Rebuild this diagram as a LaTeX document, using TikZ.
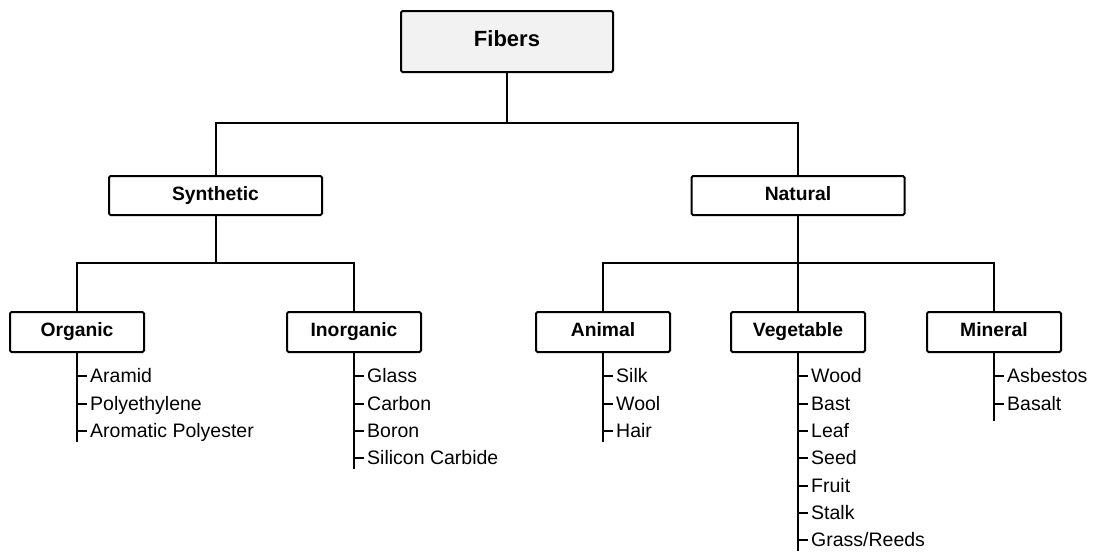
\documentclass[tikz,border=0pt]{standalone}
\usepackage{fontspec}
\setmainfont{Liberation Sans}
\usepackage{tikz}
\usetikzlibrary{positioning}

\definecolor{rootfill}{HTML}{F2F2F2}

\tikzset{
  box/.style   ={draw, line width=2pt, rounded corners=1.5pt, fill=white,
                 font=\fontsize{19.3}{22}\selectfont\bfseries, text height=13pt, text depth=4pt,
                 minimum width=134pt, minimum height=40pt, inner sep=0pt},
  root/.style  ={box, fill=rootfill, minimum width=212pt, minimum height=61pt,
                 text height=15pt, text depth=5pt, font=\fontsize{22}{26}\selectfont\bfseries},
  group/.style ={box, minimum width=213pt, minimum height=39pt},
  item/.style  ={anchor=west, inner xsep=3pt, inner ysep=0pt, text height=13pt, text depth=0pt,
                 font=\fontsize{19.5}{22}\selectfont},
  tree/.style  ={line width=2pt}
}

\begin{document}
\begin{tikzpicture}[x=1pt,y=-1pt]
  \useasboundingbox (0,0) rectangle (1093,552);

  \node[root]  (fibers)    at (507,41.5) {Fibers};
  \node[group] (synthetic) at (215.5,195.5) {Synthetic};
  \node[group] (natural)   at (798,195.5) {Natural};

  \node[box] (organic)   at (77,332)  {Organic};
  \node[box] (inorganic) at (354,332) {Inorganic};
  \node[box] (animal)    at (603,332) {Animal};
  \node[box] (vegetable) at (798,332) {Vegetable};
  \node[box] (mineral)   at (994,332) {Mineral};

  \coordinate (topbus)     at (507,123);
  \coordinate (synthbus)   at (215.5,263);
  \coordinate (naturalbus) at (798,263);

  \draw[tree] (fibers.south) -- (topbus);
  \draw[tree] (synthetic.north) |- (topbus) -| (natural.north);
  \draw[tree] (synthetic.south) -- (synthbus);
  \draw[tree] (organic.north) |- (synthbus) -| (inorganic.north);
  \draw[tree] (natural.south) -- (vegetable.north);
  \draw[tree] (animal.north) |- (naturalbus) -| (mineral.north);

  % synthetic leaves
  \node[item] (aramid)   at (87,376) {Aramid};
  \node[item] (polyeth)  at (87,404) {Polyethylene};
  \node[item] (aromatic) at (87,431) {Aromatic Polyester};
  \coordinate (organicend) at (77,442);

  \node[item] (glass)   at (364,376) {Glass};
  \node[item] (carbon)  at (364,404) {Carbon};
  \node[item] (boron)   at (364,431) {Boron};
  \node[item] (silicon) at (364,458) {Silicon Carbide};
  \coordinate (inorganicend) at (354,469);

  % natural leaves
  \node[item] (silk) at (613,376) {Silk};
  \node[item] (wool) at (613,404) {Wool};
  \node[item] (hair) at (613,431) {Hair};
  \coordinate (animalend) at (603,442);

  \node[item] (wood)  at (808,376) {Wood};
  \node[item] (bast)  at (808,404) {Bast};
  \node[item] (leaf)  at (808,431) {Leaf};
  \node[item] (seed)  at (808,458) {Seed};
  \node[item] (fruit) at (808,486) {Fruit};
  \node[item] (stalk) at (808,513) {Stalk};
  \node[item] (grass) at (808,540) {Grass/Reeds};
  \coordinate (vegetableend) at (798,551);

  \node[item] (asbestos) at (1004,376) {Asbestos};
  \node[item] (basalt)   at (1004,404) {Basalt};
  \coordinate (mineralend) at (994,421);

  \draw[tree] (organic.south)   -- (organicend);
  \draw[tree] (inorganic.south) -- (inorganicend);
  \draw[tree] (animal.south)    -- (animalend);
  \draw[tree] (vegetable.south) -- (vegetableend);
  \draw[tree] (mineral.south)   -- (mineralend);

  \foreach \n in {aramid,polyeth,aromatic}
    \draw[tree] (organic.south |- \n.west) -- (\n.west);
  \foreach \n in {glass,carbon,boron,silicon}
    \draw[tree] (inorganic.south |- \n.west) -- (\n.west);
  \foreach \n in {silk,wool,hair}
    \draw[tree] (animal.south |- \n.west) -- (\n.west);
  \foreach \n in {wood,bast,leaf,seed,fruit,stalk,grass}
    \draw[tree] (vegetable.south |- \n.west) -- (\n.west);
  \foreach \n in {asbestos,basalt}
    \draw[tree] (mineral.south |- \n.west) -- (\n.west);
\end{tikzpicture}
\end{document}
